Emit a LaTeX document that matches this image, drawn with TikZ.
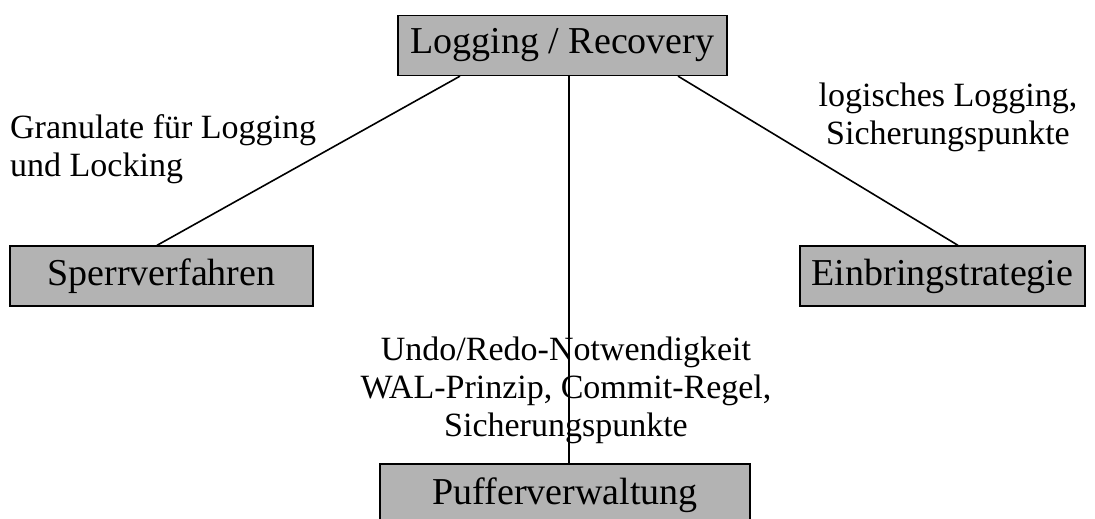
\documentclass[tikz,border=0pt]{standalone}
\usepackage{fontspec}
\setmainfont{Liberation Serif}
\definecolor{boxgray}{HTML}{B3B3B3}
\begin{document}
\begin{tikzpicture}[x=1pt,y=-1pt,
  topic/.style={draw=black, line width=1.3pt, fill=boxgray, inner sep=0pt,
    minimum height=60pt, font=\fontsize{38}{44}\selectfont},
  lbl/.style={inner sep=0pt, font=\fontsize{34}{38}\selectfont},
  link/.style={line width=1.6pt}]
\useasboundingbox (0,0) rectangle (1095,519);
\fill[white] (0,0) rectangle (1095,519);
\node[topic, minimum width=329pt] (L) at (562.5,45.5) {Logging / Recovery};
\node[topic, minimum width=303pt] (S) at (161.5,276) {Sperrverfahren};
\node[topic, minimum width=285pt] (E) at (942.5,276) {Einbringstrategie};
\node[topic, minimum width=370pt, minimum height=62pt] (P) at (565,495) {Pufferverwaltung};
\draw[link] ([xshift=-102.5pt]L.south) -- ([xshift=-4.5pt]S.north);
\draw[link] ([xshift=6.5pt]L.south) -- ([xshift=6.5pt]L.south |- P.north);
\draw[link] ([xshift=115.5pt]L.south) -- ([xshift=15.5pt]E.north);
\node[lbl, anchor=west, align=left] (t1) at (10,149) {Granulate für Logging\\und Locking};
\node[lbl, align=center] (t2) at (948,117) {logisches Logging,\\Sicherungspunkte};
\node[lbl, align=center] (t3) at (566,390) {Undo/Redo-Notwendigkeit\\WAL-Prinzip, Commit-Regel,\\Sicherungspunkte};
\end{tikzpicture}
\end{document}
